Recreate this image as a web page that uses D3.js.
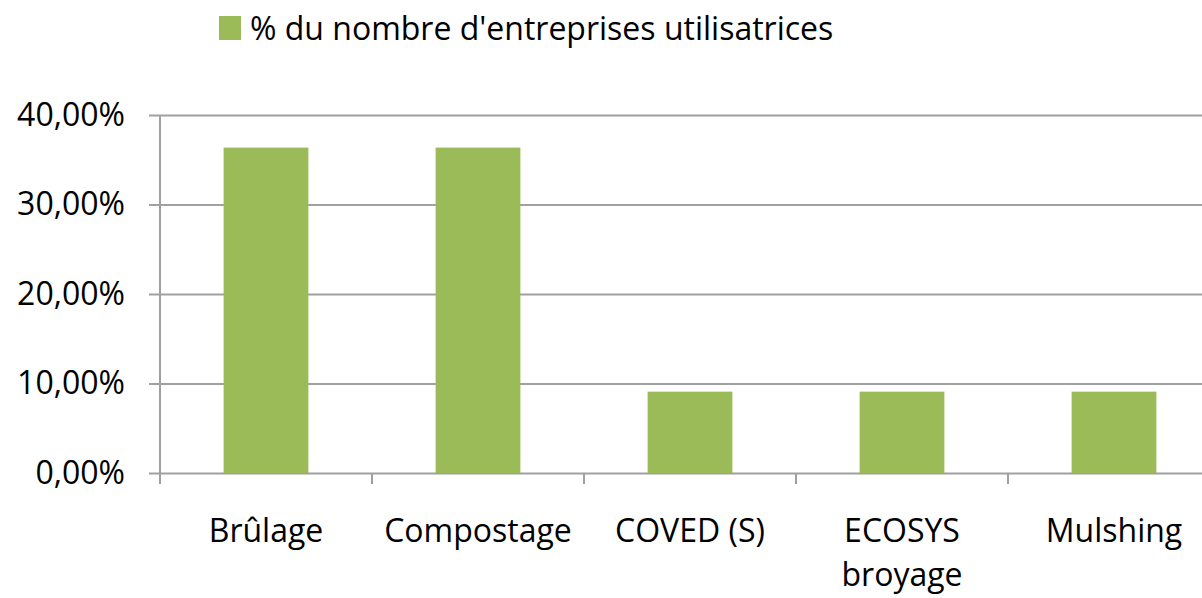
<!DOCTYPE html>
<html>
<head>
<meta charset="utf-8">
<script src="https://cdnjs.cloudflare.com/ajax/libs/d3/7.8.5/d3.min.js"></script>
<style>
  body { margin: 0; background: #fff; }
  svg { display: block; font-family: 'Open Sans', 'Noto Sans', sans-serif; }
</style>
</head>
<body>
<svg id="chart" width="1202" height="598"></svg>
<script>
'use strict';

const categories = ['Brûlage', 'Compostage', 'COVED (S)', 'ECOSYS broyage', 'Mulshing'];
const values = [0.3636, 0.3636, 0.0909, 0.0909, 0.0909];
const yTicks = [0, 0.1, 0.2, 0.3, 0.4];
const seriesName = "% du nombre d'entreprises utilisatrices";

const svg = d3.select('#chart');
const margin = { left: 160, top: 115, bottom: 473 };
const bandW = 212;
const fontSize = 32;

const x = d3.scaleBand()
  .domain(categories)
  .range([margin.left, margin.left + bandW * categories.length])
  .paddingInner(0.6)
  .paddingOuter(0.3);

const y = d3.scaleLinear()
  .domain([0, 0.4])
  .range([margin.bottom, margin.top]);

const fmt = v => d3.format('.2f')(v * 100).replace('.', ',') + '%';

// gridlines + y labels
const yAxis = d3.axisLeft(y)
  .tickValues(yTicks)
  .tickFormat(fmt)
  .tickSize(-(1202 - 149))
  .tickPadding(24);

svg.append('g')
  .attr('transform', 'translate(149,0)')
  .call(yAxis)
  .call(g => g.select('.domain').remove())
  .call(g => g.selectAll('.tick line').attr('stroke', '#a0a0a0').attr('stroke-width', 2))
  .call(g => g.selectAll('.tick text')
    .attr('fill', '#000')
    .attr('font-size', fontSize)
    .attr('font-family', "'Open Sans', sans-serif"));

// bars
svg.append('g')
  .selectAll('rect')
  .data(values)
  .join('rect')
  .attr('x', (d, i) => x(categories[i]))
  .attr('width', x.bandwidth())
  .attr('y', d => y(d))
  .attr('height', d => y(0) - y(d))
  .attr('fill', '#9bbb59');

// y axis line
svg.append('line')
  .attr('x1', margin.left).attr('x2', margin.left)
  .attr('y1', margin.top).attr('y2', margin.bottom + 11)
  .attr('stroke', '#a0a0a0').attr('stroke-width', 2);

// x category tick marks
const boundaries = d3.range(categories.length).map(i => margin.left + i * bandW);
svg.append('g')
  .selectAll('line')
  .data(boundaries)
  .join('line')
  .attr('x1', d => d).attr('x2', d => d)
  .attr('y1', margin.bottom).attr('y2', margin.bottom + 11)
  .attr('stroke', '#a0a0a0').attr('stroke-width', 2);

// x labels (wrapped)
const xl = svg.append('g')
  .selectAll('text')
  .data(categories)
  .join('text')
  .attr('text-anchor', 'middle')
  .attr('font-size', fontSize)
  .attr('fill', '#000');

xl.each(function(d) {
  const cx = x(d) + x.bandwidth() / 2;
  const words = d === 'ECOSYS broyage' ? ['ECOSYS', 'broyage'] : [d];
  d3.select(this).selectAll('tspan')
    .data(words)
    .join('tspan')
    .attr('x', cx)
    .attr('y', (w, j) => 542 + j * 44)
    .text(w => w);
});

// legend
svg.append('rect')
  .attr('x', 219).attr('y', 16)
  .attr('width', 22).attr('height', 24)
  .attr('fill', '#9bbb59');
svg.append('text')
  .attr('x', 250).attr('y', 40)
  .attr('font-size', fontSize)
  .attr('fill', '#000')
  .text(seriesName);
</script>
</body>
</html>
